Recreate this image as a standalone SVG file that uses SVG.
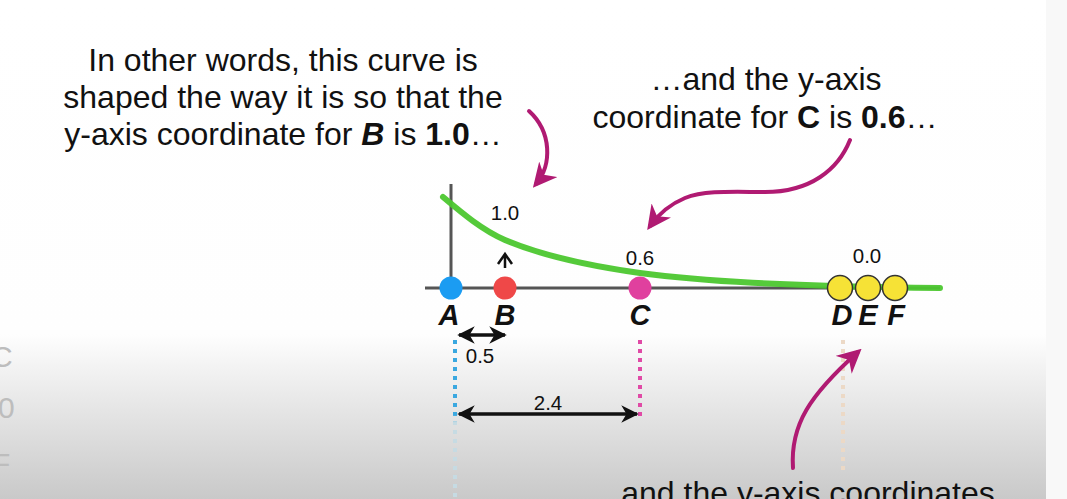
<svg xmlns="http://www.w3.org/2000/svg" width="1067" height="499" viewBox="0 0 1067 499">
<defs>
<linearGradient id="bg" x1="0" y1="0" x2="0" y2="1">
<stop offset="0" stop-color="#ffffff"/>
<stop offset="0.67" stop-color="#fefefe"/>
<stop offset="0.74" stop-color="#f2f2f2"/>
<stop offset="1" stop-color="#c9c9c9"/>
</linearGradient>
<linearGradient id="fadeBlue" gradientUnits="userSpaceOnUse" x1="0" y1="340" x2="0" y2="499">
<stop offset="0" stop-color="#3aa8e0"/>
<stop offset="0.47" stop-color="#3aa8e0"/>
<stop offset="0.52" stop-color="#c6dbe3"/>
<stop offset="1" stop-color="#c6dbe3"/>
</linearGradient>
<marker id="mh" viewBox="0 0 10 10" refX="8" refY="5" markerWidth="6" markerHeight="6" orient="auto" markerUnits="strokeWidth">
<path d="M0,0 L10,5 L0,10 L3,5 Z" fill="#b01a72"/>
</marker>
<marker id="ah" viewBox="0 0 10 10" refX="9" refY="5" markerWidth="5" markerHeight="5" orient="auto-start-reverse" markerUnits="strokeWidth">
<path d="M0,0 L10,5 L0,10 L3,5 Z" fill="#111"/>
</marker>
<style>
text{font-family:"Liberation Sans",Arial,sans-serif;fill:#111}
.big{font-size:32px;text-anchor:middle}
.lbl{font-size:29px;font-weight:bold;font-style:italic;text-anchor:middle}
.val{font-size:20.5px;text-anchor:middle}
.mag{fill:none;stroke:#b01a72;stroke-width:4;stroke-linecap:round}
.dim{stroke:#111;stroke-width:3.5;fill:none}
.ghost{fill:#bdbdbd;font-size:30px}
</style>
</defs>
<rect width="1067" height="499" fill="url(#bg)"/>
<rect x="1046" y="0" width="21" height="499" fill="#f8f8f8"/>

<g id="ghost">
<text class="ghost" x="-9" y="367">C</text>
<text class="ghost" x="-2" y="418" font-size="22">0</text>
<text class="ghost" x="-8" y="474">F</text>
</g>

<g id="text-left">
<text class="big" x="283" y="71">In other words, this curve is</text>
<text class="big" x="283" y="108">shaped the way it is so that the</text>
<text class="big" x="283" y="145">y-axis coordinate for <tspan font-weight="bold" font-style="italic">B</tspan> is <tspan font-weight="bold">1.0</tspan>…</text>
</g>

<g id="text-right">
<text class="big" x="766" y="90">…and the y-axis</text>
<text class="big" x="765" y="128">coordinate for <tspan font-weight="bold">C</tspan> is <tspan font-weight="bold">0.6</tspan>…</text>
</g>

<g id="text-bottom">
<text class="big" x="792" y="504">…and the y-axis coordinates</text>
</g>

<g id="axes">
<line x1="451" y1="184" x2="451" y2="289" stroke="#555" stroke-width="3"/>
<line x1="425" y1="288" x2="940" y2="288" stroke="#555" stroke-width="3"/>
</g>

<g id="curve">
<path d="M443,197 C462,213 482,230 505,240 C545,257 590,266 640,273 C700,281 780,286 940,288" fill="none" stroke="#4cc72f" stroke-width="6" stroke-linecap="round" opacity="0.95"/>
</g>

<g id="guides">
<line x1="455" y1="340" x2="455" y2="499" stroke="url(#fadeBlue)" stroke-width="4" stroke-dasharray="4,5"/>
<line x1="640" y1="340" x2="640" y2="416" stroke="#e04aa6" stroke-width="4" stroke-dasharray="4,5"/>
<line x1="843" y1="340" x2="843" y2="470" stroke="#ecd9c6" stroke-width="4" stroke-dasharray="4,5"/>
</g>

<g id="connectors">
<path class="mag" d="M529,111 C552,132 552,165 536,184" marker-end="url(#mh)"/>
<path class="mag" d="M850,140 C838,170 810,192 765,192 C735,192 705,190 685,198 C668,205 658,215 650,226" marker-end="url(#mh)"/>
<path class="mag" d="M793,468 C790,425 810,395 858,352" marker-end="url(#mh)"/>
<line class="dim" x1="459" y1="335" x2="505" y2="335" marker-start="url(#ah)" marker-end="url(#ah)"/>
<line class="dim" x1="459" y1="414" x2="637" y2="414" marker-start="url(#ah)" marker-end="url(#ah)"/>
<path d="M505,268 L505,256 M498,264 L505,254 L512,264" stroke="#111" stroke-width="2.5" fill="none"/>
</g>

<g id="node-A">
<circle cx="451" cy="288" r="11.5" fill="#1b9cf2"/>
<text class="lbl" x="449" y="325">A</text>
</g>
<g id="node-B">
<circle cx="505" cy="288" r="11.5" fill="#ef4848"/>
<text class="lbl" x="505" y="325">B</text>
<text class="val" x="505" y="220">1.0</text>
</g>
<g id="node-C">
<circle cx="640" cy="288" r="11.5" fill="#e0409e"/>
<text class="lbl" x="640" y="325">C</text>
<text class="val" x="640" y="265">0.6</text>
</g>
<g id="node-DEF">
<circle cx="840" cy="288" r="12.5" fill="#f6e236" stroke="#333" stroke-width="1.5"/>
<circle cx="868" cy="288" r="12.5" fill="#f6e236" stroke="#333" stroke-width="1.5"/>
<circle cx="895" cy="288" r="12.5" fill="#f6e236" stroke="#333" stroke-width="1.5"/>
<text class="lbl" x="842" y="325">D</text>
<text class="lbl" x="868" y="325">E</text>
<text class="lbl" x="896" y="325">F</text>
<text class="val" x="867" y="263">0.0</text>
</g>
<g id="dim-labels">
<text class="val" x="480" y="363">0.5</text>
<text class="val" x="548" y="410">2.4</text>
</g>
</svg>
